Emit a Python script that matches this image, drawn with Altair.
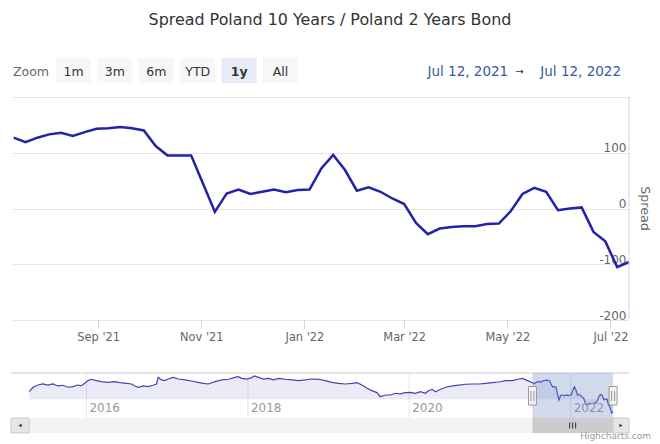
import altair as alt
import pandas as pd

# ---------------- data ----------------
TITLE = "Spread Poland 10 Years / Poland 2 Years Bond"
BUTTONS = ["1m", "3m", "6m", "YTD", "1y", "All"]
SELECTED_BUTTON = "1y"
RANGE_FROM = "Jul 12, 2021"
RANGE_TO = "Jul 12, 2022"

main_dates = [
    "2021-07-13", "2021-07-20", "2021-07-27", "2021-08-03", "2021-08-10", "2021-08-17",
    "2021-08-24", "2021-08-31", "2021-09-07", "2021-09-14", "2021-09-21", "2021-09-28",
    "2021-10-05", "2021-10-12", "2021-10-19", "2021-10-26",
    "2021-11-09", "2021-11-16", "2021-11-23", "2021-11-30", "2021-12-07", "2021-12-14",
    "2021-12-21", "2021-12-28", "2022-01-04", "2022-01-11", "2022-01-18", "2022-01-25",
    "2022-02-01", "2022-02-08", "2022-02-15", "2022-02-22", "2022-03-01", "2022-03-08",
    "2022-03-15", "2022-03-22", "2022-03-29", "2022-04-05", "2022-04-12", "2022-04-19",
    "2022-04-26", "2022-05-03", "2022-05-10", "2022-05-17", "2022-05-24", "2022-05-31",
    "2022-06-07", "2022-06-14", "2022-06-21", "2022-06-28", "2022-07-05", "2022-07-12",
]
main_values = [
    127, 119, 127, 133, 136, 130, 137, 143, 144, 146, 144, 140, 112, 95, 95, 95,
    -6, 27, 34, 26, 30, 34, 29, 33, 34, 72, 96, 69, 32, 38, 30, 18, 8, -26,
    -46, -36, -33, -32, -32, -28, -27, -5, 26, 37, 30, -3, 0, 2, -42, -59, -105, -96,
]

hist_dates = [
    "2015-04-17", "2015-05-04", "2015-05-26", "2015-06-18", "2015-07-10", "2015-08-02",
    "2015-08-25", "2015-09-16", "2015-10-09", "2015-11-01", "2015-11-23", "2015-12-08",
    "2015-12-24", "2016-01-08", "2016-01-23", "2016-02-15", "2016-03-08", "2016-04-08",
    "2016-05-08", "2016-05-31", "2016-07-01", "2016-07-23", "2016-08-07", "2016-08-22",
    "2016-09-14", "2016-10-06", "2016-10-29", "2016-11-13", "2016-11-21", "2016-12-06",
    "2016-12-21", "2017-01-05", "2017-01-28", "2017-02-20", "2017-03-22", "2017-04-21",
    "2017-05-21", "2017-06-13", "2017-07-06", "2017-08-05", "2017-09-05", "2017-10-05",
    "2017-11-04", "2017-11-19", "2017-12-04", "2017-12-27", "2018-01-19", "2018-01-30",
    "2018-02-18", "2018-03-13", "2018-04-04", "2018-04-27", "2018-05-20", "2018-06-19",
    "2018-07-19", "2018-08-18", "2018-09-17", "2018-10-18", "2018-11-17", "2018-12-17",
    "2019-01-16", "2019-02-16", "2019-03-18", "2019-04-17", "2019-05-10", "2019-06-01",
    "2019-06-24", "2019-07-16", "2019-08-08", "2019-08-23", "2019-09-15", "2019-10-08",
    "2019-10-30", "2019-11-22", "2019-12-14", "2020-01-06", "2020-01-29", "2020-02-21",
    "2020-03-14", "2020-03-29", "2020-04-14", "2020-04-29", "2020-05-14", "2020-06-13",
    "2020-07-14", "2020-08-13", "2020-09-12", "2020-10-13", "2020-11-12", "2020-12-12",
    "2021-01-12", "2021-02-11", "2021-03-13", "2021-04-13", "2021-05-06", "2021-05-28",
    "2021-06-20",
]
hist_values = [
    58, 92, 109, 117, 109, 117, 102, 107, 92, 97, 109, 102,
    122, 143, 153, 143, 135, 130, 135, 127, 122, 117, 102, 92,
    102, 97, 107, 117, 168, 148, 143, 155, 168, 155, 148, 140,
    130, 122, 117, 135, 148, 153, 168, 173, 160, 155, 166, 178,
    168, 155, 160, 148, 160, 153, 148, 143, 148, 155, 153, 143,
    130, 122, 117, 122, 127, 109, 84, 66, 51, 20, 33, 33,
    46, 41, 51, 53, 46, 58, 46, 66, 76, 58, 71, 92,
    102, 109, 115, 117, 117, 122, 127, 132, 143, 143, 153, 160,
    143,
]

x_tick_dates = [(2021, 9, 1), (2021, 11, 1), (2022, 1, 1), (2022, 3, 1), (2022, 5, 1), (2022, 7, 1)]
y_ticks = [-200, -100, 0, 100, 200]
nav_year_dates = ["2016-01-01", "2018-01-01", "2020-01-01", "2022-01-01"]
nav_year_labels = ["2016", "2018", "2020", "2022"]

# ---------------- layout / style ----------------
FONT = "DejaVu Sans"
W, H = 617, 223
NAV_H = 45
LINE = "#2222aa"


def dt(y, m, d):
    return alt.DateTime(year=y, month=m, date=d, utc=True)


one = pd.DataFrame({"k": [0]})
main_df = pd.DataFrame({"date": main_dates, "spread": main_values})
nav_df = pd.DataFrame({"date": hist_dates + main_dates, "spread": hist_values + main_values})
years_df = pd.DataFrame({"ydate": nav_year_dates, "label": nav_year_labels})

# ---------- main plot ----------
x_main = alt.X(
    "date:T",
    scale=alt.Scale(type="utc", domain=[dt(2021, 7, 12), dt(2022, 7, 12)]),
    axis=alt.Axis(
        values=[dt(*d) for d in x_tick_dates], format="%b '%y", domain=False, grid=False,
        tickSize=8, tickColor="#ccd6eb", labelColor="#666666", labelFont=FONT,
        labelFontSize=11.4, labelPadding=3, labelFlush=False, title=None,
    ),
)
y_main = alt.Y(
    "spread:Q",
    scale=alt.Scale(domain=[-200, 200], nice=False, zero=False),
    axis=alt.Axis(
        orient="right", values=y_ticks, grid=True, gridColor="#e6e6e6", domain=False,
        ticks=False, tickSize=0, labelAlign="right", labelPadding=-3,
        labelBaseline="alphabetic", labelOffset=-1,
        labelExpr="datum.value == 200 ? '' : datum.value + ''",
        labelColor="#666666", labelFont=FONT, labelFontSize=12,
        title="Spread", titleAngle=90, titleX=15.5, titleY=111, titleAlign="center",
        titleBaseline="middle", titleColor="#666666", titleFont=FONT, titleFontSize=12.7,
        titleFontWeight="normal",
    ),
)
main_line = alt.Chart(main_df).mark_line(color=LINE, strokeWidth=2.5).encode(x=x_main, y=y_main)
right_axis_line = alt.Chart(one).mark_rule(color="#ccd6eb", strokeWidth=1).encode(
    x=alt.value(W), y=alt.value(0), y2=alt.value(H)
)
# invisible frame fixing the drawing's outer bounds (page 8..651 x 8..436)
frame = alt.Chart(one).mark_rect(opacity=0, color="white").encode(
    x=alt.value(-3), x2=alt.value(640), y=alt.value(-89), y2=alt.value(339)
)

header = []
header.append(alt.Chart(one).mark_text(text=TITLE, font=FONT, fontSize=15.9, color="#333333",
                                       align="center", baseline="middle").encode(x=alt.value(318), y=alt.value(-77)))
header.append(alt.Chart(one).mark_text(text="Zoom", font=FONT, fontSize=12.5, color="#666666",
                                       align="left", baseline="middle").encode(x=alt.value(1), y=alt.value(-25.5)))
for i, b in enumerate(BUTTONS):
    x0 = 44 + i * 41.4
    sel = b == SELECTED_BUTTON
    header.append(alt.Chart(one).mark_rect(color="#e6ebf5" if sel else "#f7f7f7").encode(
        x=alt.value(x0), x2=alt.value(x0 + 35), y=alt.value(-39), y2=alt.value(-14)))
    header.append(alt.Chart(one).mark_text(text=b, font=FONT, fontSize=12.5, color="#333333",
                                           fontWeight="bold" if sel else "normal",
                                           align="center", baseline="middle").encode(
        x=alt.value(x0 + 17.5), y=alt.value(-25.5)))
header.append(alt.Chart(one).mark_text(text=RANGE_FROM, font=FONT, fontSize=13.5, color="#3a5a9f",
                                       align="left", baseline="middle").encode(x=alt.value(415.5), y=alt.value(-25.5)))
header.append(alt.Chart(one).mark_text(text="→", font=FONT, fontSize=10, color="#333333",
                                       align="center", baseline="middle").encode(x=alt.value(507.5), y=alt.value(-25.5)))
header.append(alt.Chart(one).mark_text(text=RANGE_TO, font=FONT, fontSize=13.5, color="#3a5a9f",
                                       align="right", baseline="middle").encode(x=alt.value(609), y=alt.value(-25.5)))

main_view = alt.layer(frame, main_line, right_axis_line, *header).properties(width=W, height=H)

# ---------- navigator ----------
nav_scale = alt.Scale(type="utc", domain=[dt(2015, 1, 29), dt(2022, 9, 22)])
nav_x = alt.X("date:T", scale=nav_scale, axis=None)
nav_y = alt.Y("spread:Q", scale=alt.Scale(domain=[-143, 201], nice=False, zero=False), axis=None)

nav_grid = alt.Chart(years_df).mark_rule(color="#e6e6e6").encode(
    x=alt.X("ydate:T", scale=nav_scale, axis=None), y=alt.value(0), y2=alt.value(NAV_H)
)
nav_area = alt.Chart(nav_df).mark_area(color="#3a3ab0", opacity=0.1).encode(
    x=nav_x, y=nav_y, y2=alt.value(NAV_H)
)
nav_line = alt.Chart(nav_df).mark_line(color="#4444b0", strokeWidth=1.2).encode(x=nav_x, y=nav_y)
nav_labels = alt.Chart(years_df).mark_text(
    align="left", baseline="middle", dx=3, font=FONT, fontSize=12, color="#999999"
).encode(x=alt.X("ydate:T", axis=None), y=alt.value(35), text=alt.Text("label:N"))

sel_from = alt.X(datum=dt(2021, 7, 12), type="temporal", axis=None)
sel_to = alt.X2(datum=dt(2022, 7, 12))
nav_outline = alt.Chart(one).mark_rule(color="#cccccc").encode(
    x=alt.value(-1), x2=alt.value(W), y=alt.value(0))
nav_mask = alt.Chart(one).mark_rect(color="#6685c2", opacity=0.3).encode(
    x=sel_from, x2=sel_to, y=alt.value(0), y2=alt.value(NAV_H)
)
track = alt.Chart(one).mark_rect(color="#f2f2f2").encode(
    x=alt.value(17), x2=alt.value(601), y=alt.value(NAV_H), y2=alt.value(NAV_H + 15))
thumb = alt.Chart(one).mark_rect(color="#cccccc").encode(
    x=sel_from, x2=sel_to, y=alt.value(NAV_H), y2=alt.value(NAV_H + 15)
)
grips = [
    alt.Chart(one).mark_rule(color="#333333", xOffset=o, strokeWidth=1).encode(
        x=alt.X(datum=dt(2022, 1, 10), type="temporal", axis=None),
        y=alt.value(NAV_H + 4.5), y2=alt.value(NAV_H + 10.5)
    )
    for o in (-3, 0, 3)
]
handles = []
for d in [dt(2021, 7, 12), dt(2022, 7, 12)]:
    hx = alt.X(datum=d, type="temporal", axis=None)
    handles.append(
        alt.Chart(one).mark_rect(fill="#f2f2f2", stroke="#999999", strokeWidth=1, xOffset=-4, x2Offset=4).encode(
            x=hx, x2=alt.X2(datum=d), y=alt.value(13.5), y2=alt.value(32)
        )
    )
    for o in (-1.5, 1.5):
        handles.append(
            alt.Chart(one).mark_rule(color="#999999", xOffset=o).encode(
                x=hx, y=alt.value(18), y2=alt.value(28)
            )
        )
buttons = []
for bx0, bx1, shape in [(-1, 17, "triangle-left"), (601, 617, "triangle-right")]:
    buttons.append(alt.Chart(one).mark_rect(fill="#e6e6e6", stroke="#cccccc", strokeWidth=1).encode(
        x=alt.value(bx0), x2=alt.value(bx1), y=alt.value(NAV_H), y2=alt.value(NAV_H + 15)))
    buttons.append(alt.Chart(one).mark_point(shape=shape, filled=True, color="#333333", size=14, opacity=1).encode(
        x=alt.value((bx0 + bx1) / 2), y=alt.value(NAV_H + 7.5)))
credit = alt.Chart(one).mark_text(text="Highcharts.com", font=FONT, fontSize=9, color="#999999",
                                  align="right", baseline="middle").encode(x=alt.value(639), y=alt.value(NAV_H + 18))

nav_view = alt.layer(
    nav_grid, nav_area, nav_line, nav_labels, nav_outline, nav_mask,
    track, thumb, *grips, *handles, *buttons, credit
).properties(width=W, height=NAV_H)

chart = alt.vconcat(main_view, nav_view, spacing=53, bounds="flush").resolve_scale(
    x="independent", y="independent"
).properties(
    padding=0,
).configure_view(stroke=None)

chart.save("out.html", embed_options={"renderer": "svg", "actions": False})
